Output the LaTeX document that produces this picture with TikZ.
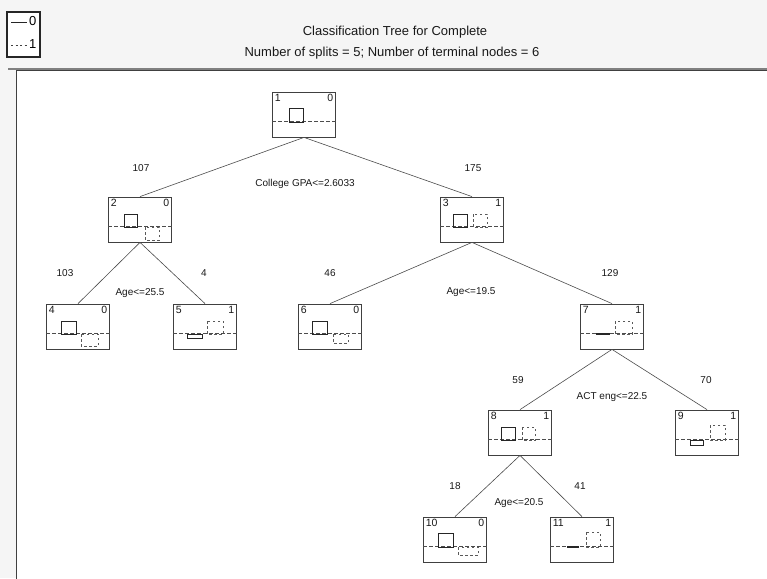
\documentclass[tikz,border=0pt]{standalone}
\usepackage{fontspec}
\setmainfont{Liberation Sans}
\begin{document}
\begin{tikzpicture}[x=1pt,y=-1pt,
  tbox/.style={draw=black!75,line width=0.8pt,minimum width=63pt,minimum height=45pt,inner sep=0pt},
  dline/.style={draw=black!70,dashed,dash pattern=on 3.5pt off 2.5pt,line width=0.7pt},
  sbar/.style={draw=black!85,line width=0.9pt},
  dbar/.style={draw=black!65,dashed,dash pattern=on 2.5pt off 2.5pt,line width=0.7pt},
  conn/.style={draw=black!70,line width=0.6pt},
  lbl/.style={font=\fontsize{10}{11}\selectfont,text=black!90,inner sep=0pt},
  num/.style={font=\fontsize{10.5}{11}\selectfont,text=black!90,inner xsep=2.5pt,inner ysep=2pt}]
\useasboundingbox (0,0) rectangle (767,578);
\fill[black!4] (0,0) rectangle (767,578);
\filldraw[fill=white,draw=black!75,line width=0.9pt] (16,70) rectangle (775,590);
\draw[black!50,line width=1.4pt] (8,69) -- (767,69);
% legend
\node[draw=black!85,line width=1.1pt,minimum width=33pt,minimum height=45pt,inner sep=0pt,fill=white] (legend) at (23.5,34.5) {};
\coordinate (l0a) at (11,22); \coordinate (l0b) at (27,22);
\coordinate (l1a) at (11,45); \coordinate (l1b) at (27,45);
\draw[black!85,line width=0.8pt] (l0a) -- (l0b);
\draw[black!75,dashed,dash pattern=on 2pt off 2.5pt,line width=0.7pt] (l1a) -- (l1b);
\node[font=\fontsize{13}{14}\selectfont,anchor=west,inner sep=0pt] (leg0) at (29,21.5) {0};
\node[font=\fontsize{13}{14}\selectfont,anchor=west,inner sep=0pt] (leg1) at (29,44.5) {1};
% title
\node[font=\fontsize{13}{15}\selectfont,text=black!90] (title) at (395,32) {Classification Tree for Complete};
\node[font=\fontsize{13}{15}\selectfont,text=black!90] (subtitle) at (392,53) {Number of splits = 5; Number of terminal nodes = 6};
% tree boxes
\newcommand\treebox[5]{%
  \node[tbox] (#1) at (#2,{#3+22.5}) {};
  \draw[dline] ([yshift=-30pt]#1.north west) -- ([yshift=-30pt]#1.north east);
  \node[num,anchor=north west] (#1id) at (#1.north west) {#4};
  \node[num,anchor=north east] (#1cl) at (#1.north east) {#5};}
\treebox{n1}{304}{92}{1}{0}
\treebox{n2}{140}{197}{2}{0}
\treebox{n3}{472}{197}{3}{1}
\treebox{n4}{78}{304}{4}{0}
\treebox{n5}{205}{304}{5}{1}
\treebox{n6}{330}{304}{6}{0}
\treebox{n7}{612}{304}{7}{1}
\treebox{n8}{520}{410}{8}{1}
\treebox{n9}{707}{410}{9}{1}
\treebox{n10}{455}{517}{10}{0}
\treebox{n11}{582}{517}{11}{1}
% bars
\draw[sbar] (289,108) rectangle (303,122);
\draw[sbar] (124,214) rectangle (137,227);
\draw[dbar] (145,227) rectangle (159,240);
\draw[sbar] (453,214) rectangle (467,227);
\draw[dbar] (473,214) rectangle (487,227);
\draw[sbar] (61,321) rectangle (76,334);
\draw[dbar] (81,334) rectangle (98,346);
\draw[sbar] (187,334) rectangle (202,338);
\draw[dbar] (207,321) rectangle (223,334);
\draw[sbar] (312,321) rectangle (327,334);
\draw[dbar] (333,334) rectangle (348,343);
\draw[sbar,line width=1.6pt] (596,334) -- (610,334);
\draw[dbar] (615,321) rectangle (632,334);
\draw[sbar] (501,427) rectangle (515,440);
\draw[dbar] (522,427) rectangle (535,440);
\draw[sbar] (690,440) rectangle (703,445);
\draw[dbar] (710,425) rectangle (725,440);
\draw[sbar] (438,533) rectangle (453,547);
\draw[dbar] (458,547) rectangle (478,555);
\draw[sbar,line width=1.2pt] (567,547) -- (579,547);
\draw[dbar] (586,532) rectangle (600,547);
% connectors
\draw[conn] (n1.south) -- (n2.north);
\draw[conn] (n1.south) -- (n3.north);
\draw[conn] (n2.south) -- (n4.north);
\draw[conn] (n2.south) -- (n5.north);
\draw[conn] (n3.south) -- (n6.north);
\draw[conn] (n3.south) -- (n7.north);
\draw[conn] (n7.south) -- (n8.north);
\draw[conn] (n7.south) -- (n9.north);
\draw[conn] (n8.south) -- (n10.north);
\draw[conn] (n8.south) -- (n11.north);
% labels
\node[lbl] (c12) at (141,168) {107};
\node[lbl] (c13) at (473,168) {175};
\node[lbl] (s1) at (305,184) {College GPA<=2.6033};
\node[lbl] (c24) at (65,273) {103};
\node[lbl] (c25) at (204,273) {4};
\node[lbl] (s2) at (140,293) {Age<=25.5};
\node[lbl] (c36) at (330,273) {46};
\node[lbl] (c37) at (610,273) {129};
\node[lbl] (s3) at (471,292) {Age<=19.5};
\node[lbl] (c78) at (518,380) {59};
\node[lbl] (c79) at (706,380) {70};
\node[lbl] (s7) at (612,397) {ACT eng<=22.5};
\node[lbl] (c810) at (455,486) {18};
\node[lbl] (c811) at (580,486) {41};
\node[lbl] (s8) at (519,503) {Age<=20.5};
\end{tikzpicture}
\end{document}
